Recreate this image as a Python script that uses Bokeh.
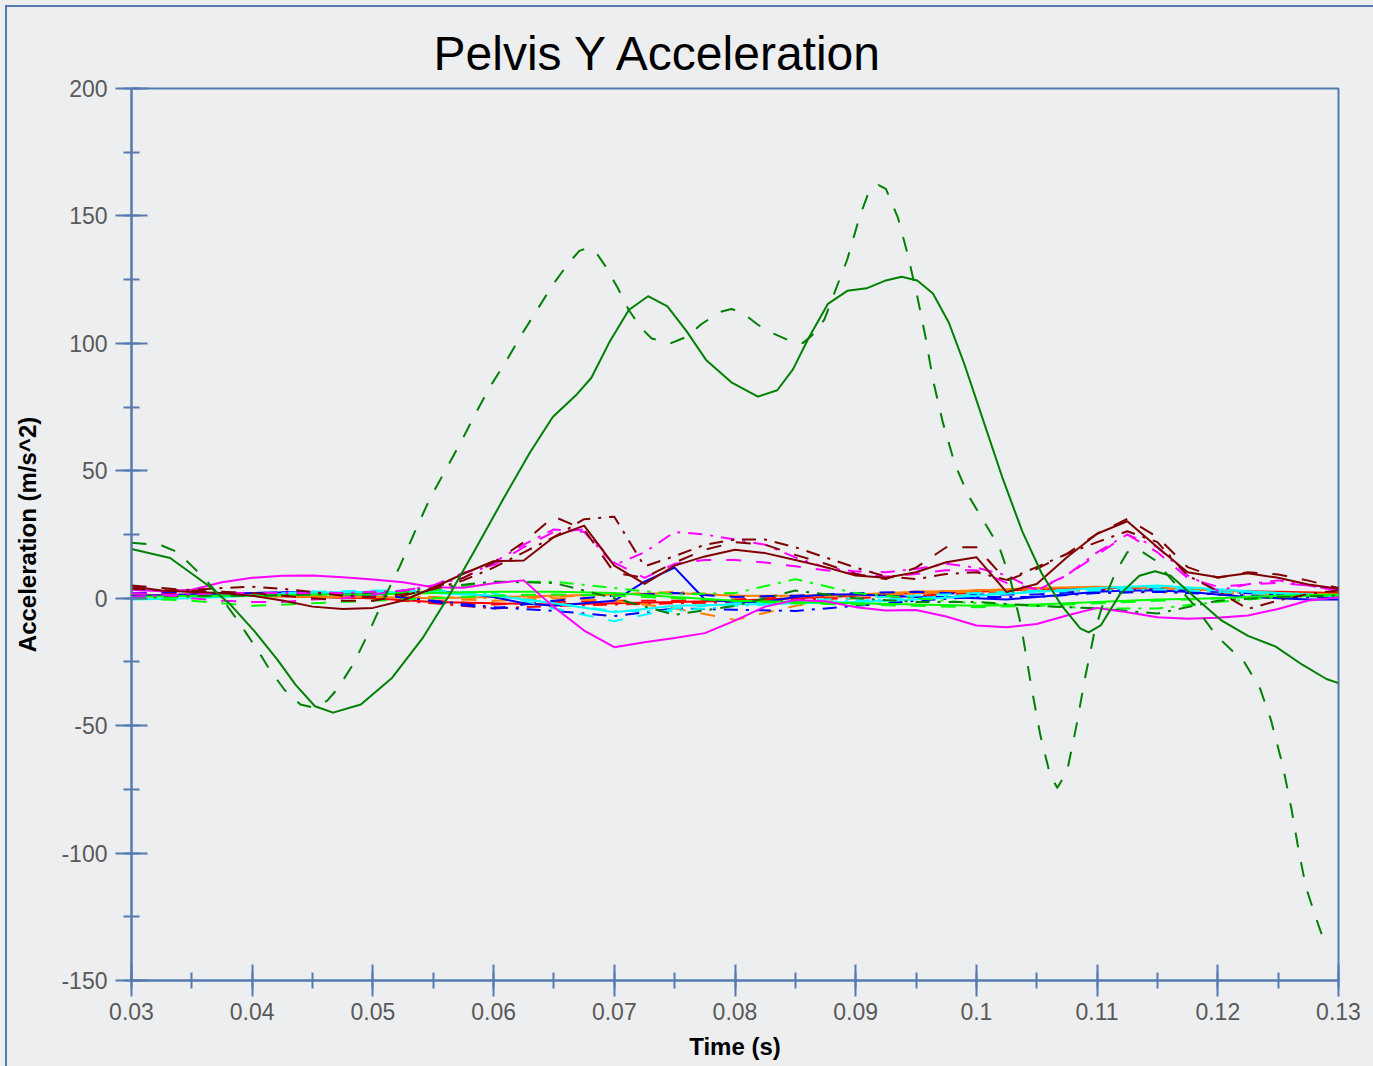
from bokeh.plotting import figure
from bokeh.models import Range1d, SingleIntervalTicker, NumeralTickFormatter
from bokeh.embed import file_html
from bokeh.resources import INLINE

# ---------------- data ----------------
# common time grids
XM = [0.03 + 0.0025 * i for i in range(41)]
XS = [0.03 + 0.005 * i for i in range(21)]

# big dark-green curves (own x samples)
GS_X = [0.03, 0.0332, 0.0363, 0.0382, 0.0402, 0.0421, 0.0436, 0.0452, 0.0467, 0.049,
        0.0516, 0.0541, 0.0563, 0.0585, 0.0608, 0.063, 0.0649, 0.0668, 0.0681, 0.0696,
        0.0712, 0.0728, 0.0744, 0.076, 0.0776, 0.0797, 0.0819, 0.0835, 0.0848, 0.0861,
        0.0877, 0.0893, 0.0909, 0.0925, 0.0938, 0.0951, 0.0964, 0.0977, 0.099, 0.1006,
        0.1022, 0.1038, 0.1054, 0.107, 0.1086, 0.1093, 0.1103, 0.1119, 0.1135, 0.1148,
        0.1161, 0.1183, 0.1203, 0.1225, 0.1248, 0.127, 0.129, 0.13]
GS_Y = [19.3, 15.8, 5.2, -2.5, -13.0, -24.2, -34.0, -42.4, -44.9, -41.7,
        -31.2, -15.8, 1.0, 19.3, 38.9, 57.1, 71.1, 79.5, 86.5, 100.5,
        113.1, 118.5, 114.5, 104.7, 93.5, 84.7, 79.1, 81.6, 89.8, 102.1,
        115.5, 120.6, 121.6, 124.7, 126.1, 124.7, 119.6, 108.3, 91.9, 69.3,
        46.7, 26.2, 9.8, -2.5, -11.8, -13.4, -10.7, 1.6, 8.8, 10.6,
        8.8, -0.5, -8.7, -14.8, -19.0, -26.1, -31.7, -33.3]

GD_X = [0.03, 0.0325, 0.0338, 0.0351, 0.036, 0.0373, 0.0386, 0.0395, 0.0405, 0.0414,
        0.0427, 0.044, 0.0449, 0.0462, 0.0471, 0.0484, 0.0497, 0.0509, 0.0522, 0.0535,
        0.0547, 0.056, 0.0573, 0.0585, 0.0598, 0.0611, 0.0623, 0.0636, 0.0649, 0.0662,
        0.0671, 0.0677, 0.0685, 0.0693, 0.0703, 0.0712, 0.0722, 0.0731, 0.0747, 0.076,
        0.0772, 0.0788, 0.0797, 0.0806, 0.0819, 0.0832, 0.0845, 0.0856, 0.0864, 0.0874,
        0.0883, 0.0893, 0.0903, 0.0911, 0.0919, 0.0925, 0.0935, 0.0943, 0.0951, 0.0958,
        0.0964, 0.0972, 0.0982, 0.0993, 0.1006, 0.1019, 0.1028, 0.1037, 0.1045, 0.1053,
        0.1061, 0.1067, 0.1075, 0.1083, 0.109, 0.1098, 0.1106, 0.1115, 0.1125, 0.1135,
        0.1148, 0.1161, 0.118, 0.1199, 0.1222, 0.1235, 0.1244, 0.1254, 0.1261, 0.1267,
        0.1273, 0.128, 0.1286, 0.1291]
GD_Y = [21.8, 20.7, 18.1, 12.2, 8.0, 1.0, -7.4, -13.7, -20.7, -27.7,
        -36.1, -41.7, -42.7, -40.3, -35.4, -25.6, -13.0, -0.4, 12.2, 26.3,
        38.9, 50.1, 61.3, 72.5, 83.7, 93.5, 103.3, 113.1, 123.0, 131.4,
        136.3, 137.3, 135.6, 130.0, 121.6, 113.1, 106.1, 101.9, 100.1, 102.6,
        107.5, 112.4, 113.5, 112.0, 107.3, 103.8, 101.1, 100.1, 103.2, 109.3,
        120.6, 132.9, 149.3, 159.6, 162.1, 160.6, 149.3, 135.0, 118.5, 102.1,
        85.7, 69.3, 52.9, 40.6, 30.3, 20.0, 7.7, -10.7, -33.3, -53.8,
        -69.2, -74.4, -68.2, -49.7, -31.3, -12.8, -0.5, 9.8, 18.0, 19.0,
        14.9, 7.7, -2.5, -14.8, -25.1, -35.4, -47.7, -66.1, -82.6, -99.0,
        -113.3, -123.6, -131.8, -136.9]

# maroon / magenta / blue solid on the 0.0025 grid
MAROON_SOLID = [4.6, 3.0, 2.4, 2.0, 1.0, -0.9, -3.3, -4.2, -3.8, -0.9, 4.1, 9.6, 14.5, 14.8,
                24.0, 28.5, 12.8, 5.6, 12.8, 16.4, 19.0, 17.7, 15.0, 12.2, 8.9, 8.0, 10.2,
                14.1, 16.1, 2.4, 5.6, 16.1, 25.3, 30.2, 20.0, 10.2, 8.2, 9.8, 8.0, 5.4, 3.7]
MAROON_DASH = [5.0, 4.0, 3.0, 2.5, 2.0, 1.0, 0.0, -1.0, -1.0, 1.0, 4.0, 8.0, 14.0, 22.0,
               32.0, 27.0, 10.0, 8.0, 14.0, 19.0, 22.0, 21.0, 17.0, 13.5, 9.5, 7.5, 12.0,
               20.0, 20.0, 6.9, 11.5, 17.4, 25.3, 31.1, 24.0, 12.2, 8.0, 10.2, 9.3, 6.9, 4.0]
MAROON_DASHDOT = [3.7, 3.0, 3.3, 4.0, 4.5, 3.7, 2.4, 1.0, 0.4, 1.6, 3.5, 7.0, 12.0, 18.0,
                  24.0, 31.0, 32.0, 12.5, 16.5, 21.0, 23.0, 23.0, 20.0, 16.0, 12.0, 8.5, 7.5,
                  9.5, 10.2, 7.2, 12.2, 17.4, 22.0, 26.3, 22.0, 8.9, 2.7, -4.2, -0.9, 1.7, 3.0]
MAGENTA_SOLID = [3.3, 2.7, 3.3, 6.3, 8.0, 8.8, 8.9, 8.2, 7.3, 6.3, 4.3, 4.1, 5.9, 7.0,
                 -3.5, -12.7, -19.2, -17.3, -15.6, -13.7, -8.8, -3.3, -0.7, -1.2, -3.5, -4.8,
                 -4.6, -7.2, -10.7, -11.4, -10.1, -6.8, -3.8, -5.5, -7.5, -8.1, -7.7, -6.8,
                 -4.2, -0.9, 0.4]
MAGENTA_DASH = [2.0, 1.5, 0.0, -1.0, -1.5, -1.5, -0.5, 0.0, 1.5, 3.0, 5.0, 10.0, 13.0, 20.0,
                26.0, 27.0, 14.0, 8.0, 13.5, 15.0, 15.0, 14.0, 12.5, 11.0, 9.5, 8.5, 9.5,
                11.0, 11.0, 6.0, 3.5, 9.0, 17.0, 25.0, 18.0, 8.0, 4.5, 5.4, 6.0, 5.0, 3.0]
MAGENTA_DASHDOT = [0.5, 1.0, 1.5, 2.0, 2.0, 2.0, 2.0, 2.0, 2.5, 3.0, 5.0, 8.0, 14.0, 21.0,
                   27.0, 26.0, 13.0, 18.0, 26.0, 25.0, 23.0, 21.0, 16.0, 12.0, 10.5, 10.2,
                   11.5, 13.5, 12.0, 9.0, 3.0, 9.0, 18.0, 25.0, 20.0, 9.0, 3.0, 5.5, 7.0,
                   5.0, 3.0]
BLUE_SOLID = [1.0, 1.2, 1.5, 1.8, 2.0, 2.2, 2.0, 1.5, 1.5, 2.0, 2.5, 2.0, 0.5, -2.0, -3.0,
              -2.0, -1.0, 6.5, 12.0, -0.5, -1.5, -1.5, 0.5, 1.5, 1.5, 1.0, 0.5, 0.5, 0.0,
              -0.5, 0.5, 1.5, 2.5, 3.0, 3.0, 2.5, 1.5, 0.5, 0.0, -0.5, -0.5]

# curves near zero on the 0.005 grid
BLUE_DASH = [2, 2.5, 2, 2.5, 2, -1.5, -4, -1, 1, 2, 0.5, 1, 2, 2.5, 1.5, 1.5, 3, 3.5, 2.5, 1.5, 0.5]
BLUE_DASHDOT = [0.5, 1, 2, 2.5, 1.5, -1, -3.5, -5, -7, -4, -4.5, -5, -3, -1, 0.5, 0.5, 2, 2.5, 1.5, 0.5, 0.5]
RED_SOLID = [1, 1.5, 1, 0.5, 0, -1.5, -2, -2.5, -2, -1.5, -1, 0, 1, 2, 2.5, 3.5, 4, 4, 3, 2.5, 2]
RED_DASH = [2, 2, 1.5, 1, 0.5, -1, -2.5, -1.5, -1, -1, -0.5, 0.5, 1.5, 2.5, 3, 3.5, 3.5, 3, 2.5, 2, 1.5]
RED_DASHDOT = [0.5, 1, 1, 0.5, 0, -2, -4, -3, -2.5, -2, -1.5, -0.5, 0, 1, 2, 3, 3.5, 3, 2, 1.5, 1]
ORANGE_SOLID = [1.5, 1, 1, 0.5, 0.5, 0, 0.5, 1, 1.5, 2, 1, 1, 1.5, 2.5, 3, 4, 4.5, 4, 3, 2, 1.5]
ORANGE_DASH = [0.5, 1, 1, 1, 0.5, 0, -1, 0, -1, -4, -8.5, -3, 0, 2, 3, 3.5, 3, 3.5, 2.5, 1.5, 1]
ORANGE_DASHDOT = [1, 0.5, 1, 1.5, 1, 0.5, 0, 0.5, 1.5, 2.5, 1, 0.5, 1, 2, 2.5, 3, 3, 2.5, 2, 1.5, 1]
CYAN_SOLID = [-0.5, 0, 1, 2, 2.5, 2, 1, -2, -5.5, -3, -2.5, -2, -1.5, -0.5, 1, 2.5, 4, 5, 3.5, 2, 1]
CYAN_DASH = [0, 0.5, 1.5, 2.5, 3, 3, 2, -4, -9, -4, -2, -1, 0, 1, 2, 3, 3.5, 4.5, 3, 2, 1]
CYAN_DASHDOT = [0.5, 1, 1.5, 2, 2.5, 2.5, 1.5, -2, -5, -5, -3, -2, -1, 0, 1.5, 2.5, 3, 3.5, 2.5, 1.5, 1]
LIME_SOLID = [0.5, 1, 1, 1.5, 1.5, 2, 2.5, 2.5, 2, 0.5, -1, -1.5, -2, -2.5, -3, -2.5, -1.5, -0.5, 0, 1, 1.5]
LIME_DASH = [0, -1, -3, -2, -1, 0, 1, 1.5, 1, 0, -1, -2, -2.5, -3, -3.5, -3, -2, -1, 0, 1, 1]
LIME_DASHDOT = [0, 0.5, 1, 1.5, 2, 3, 6.5, 6.5, 4, 1.5, 2, 7.5, 2, 0, -2, -3, -4, -4, -1.5, 0.5, 1]
GREEN_DASHDOT = [0.5, 1, 1, 1.5, 2, 4, 6.5, 6, 0, -6.5, -3, 3, 0, -1.5, -1.5, -3, -4, -6, -1, 0.5, 1]

TITLE = "Pelvis Y Acceleration"
XLABEL = "Time (s)"
YLABEL = "Acceleration (m/s^2)"

# ---------------- styles ----------------
BG = "#eceef0"
AXIS = "#547ab0"
TICKTXT = "#595959"
FONT = "Liberation Sans"
DASH = "15 15"
DASHDOT = "14 8 3 8"
GREEN, MAROON, MAGENTA = "#008000", "#800000", "#ff00ff"
BLUE, RED, ORANGE, CYAN, LIME = "#0000ff", "#ff0000", "#ff8000", "#00ffff", "#00ff00"

p = figure(frame_width=1207, frame_height=892,
           min_border_left=131, min_border_top=88, min_border_right=35, min_border_bottom=86,
           x_range=Range1d(0.03, 0.13), y_range=Range1d(-150, 200),
           output_backend="svg", toolbar_location=None,
           background_fill_color=BG, border_fill_color=BG, border_fill_alpha=0.0)
# outer figure border (left and top edges visible in the reference)
p.styles = {
    "background": ("linear-gradient(%s, %s) 5px 5px / 2px calc(100%% - 5px) no-repeat, "
                   "linear-gradient(%s, %s) 5px 5px / calc(100%% - 5px) 2px no-repeat, %s")
                  % (AXIS, AXIS, AXIS, AXIS, BG),
}

p.title.text = TITLE
p.title.align = "left"
p.title.offset = 302
p.title.text_font = FONT
p.title.text_font_size = "48px"
p.title.text_font_style = "normal"
p.title.text_color = "#000000"
p.title.standoff = 18

p.xgrid.visible = False
p.ygrid.visible = False
p.outline_line_color = AXIS
p.outline_line_width = 2
p.outline_line_alpha = 1.0

p.xaxis.ticker = SingleIntervalTicker(interval=0.01, num_minor_ticks=2)
p.yaxis.ticker = SingleIntervalTicker(interval=50, num_minor_ticks=2)
p.xaxis.formatter = NumeralTickFormatter(format="0.[00]")
p.yaxis.formatter = NumeralTickFormatter(format="0")
p.xaxis.axis_label = XLABEL
p.yaxis.axis_label = YLABEL
for ax in (p.xaxis, p.yaxis):
    ax.axis_line_color = AXIS
    ax.axis_line_width = 2
    ax.major_tick_line_color = AXIS
    ax.major_tick_line_width = 2
    ax.minor_tick_line_color = AXIS
    ax.minor_tick_line_width = 2
    ax.major_tick_in = 16
    ax.major_tick_out = 16
    ax.minor_tick_in = 8
    ax.minor_tick_out = 8
    ax.major_label_text_font = FONT
    ax.major_label_text_font_size = "23px"
    ax.major_label_text_color = TICKTXT
    ax.axis_label_text_font = FONT
    ax.axis_label_text_font_size = "24px"
    ax.axis_label_text_font_style = "bold"
    ax.axis_label_text_color = "#000000"
p.xaxis.major_label_standoff = 6
p.xaxis.axis_label_standoff = 10
p.yaxis.major_label_standoff = 8
p.yaxis.axis_label_standoff = 17

LW = 2

def add(x, y, color, dash="solid"):
    p.line(x, y, line_color=color, line_width=LW, line_dash=dash, line_join="round")

# near-zero cluster
add(XS, RED_SOLID, RED)
add(XS, RED_DASH, RED, DASH)
add(XS, RED_DASHDOT, RED, DASHDOT)
add(XS, ORANGE_SOLID, ORANGE)
add(XS, ORANGE_DASH, ORANGE, DASH)
add(XS, ORANGE_DASHDOT, ORANGE, DASHDOT)
add(XS, BLUE_DASH, BLUE, DASH)
add(XS, BLUE_DASHDOT, BLUE, DASHDOT)
add(XM, BLUE_SOLID, BLUE)
add(XS, CYAN_SOLID, CYAN)
add(XS, CYAN_DASH, CYAN, DASH)
add(XS, CYAN_DASHDOT, CYAN, DASHDOT)
add(XS, LIME_SOLID, LIME)
add(XS, LIME_DASH, LIME, DASH)
add(XS, LIME_DASHDOT, LIME, DASHDOT)
add(XS, GREEN_DASHDOT, GREEN, DASHDOT)
# magenta / maroon
add(XM, MAGENTA_SOLID, MAGENTA)
add(XM, MAGENTA_DASH, MAGENTA, DASH)
add(XM, MAGENTA_DASHDOT, MAGENTA, DASHDOT)
add(XM, MAROON_SOLID, MAROON)
add(XM, MAROON_DASH, MAROON, DASH)
add(XM, MAROON_DASHDOT, MAROON, DASHDOT)
# big green curves
add(GS_X, GS_Y, GREEN)
add(GD_X, GD_Y, GREEN, DASH)

open("out.html", "w").write(file_html(p, INLINE))
